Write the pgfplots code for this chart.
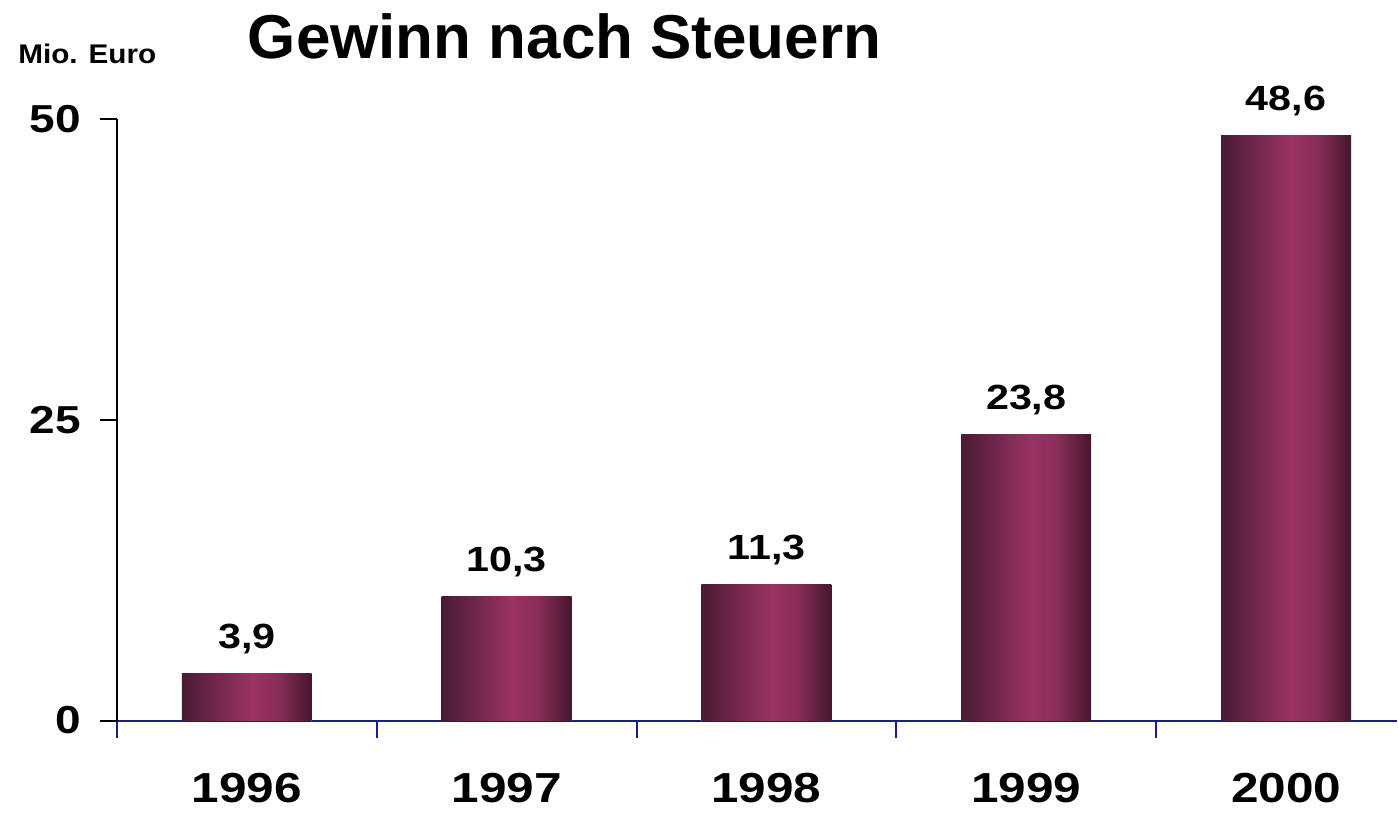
\documentclass[border=0pt]{standalone}
\usepackage{pgfplots}
\pgfplotsset{compat=1.18}
\usepackage{fontspec}
\setmainfont{Liberation Sans}
\newfontfamily\widefont[FakeStretch=1.18]{Liberation Sans}
\newfontfamily\midfont[FakeStretch=1.1]{Liberation Sans}
\definecolor{barDark}{HTML}{4A1A35}
\definecolor{barMid}{HTML}{9A3362}
\definecolor{barDarkR}{HTML}{45162F}
\definecolor{axisNavy}{HTML}{1C1C8C}
\pgfdeclarehorizontalshading{barshade}{100bp}{color(0bp)=(barDark); color(25bp)=(barDark); color(33bp)=(barDark!70!barMid); color(52bp)=(barMid); color(62bp)=(barMid!80!barDarkR); color(75bp)=(barDarkR); color(100bp)=(barDarkR)}

\begin{document}
\begin{tikzpicture}
\begin{axis}[
  scale only axis, width=640.5pt, height=301pt,
  xmin=-0.5, xmax=4.4269, ymin=0, ymax=50,
  axis x line=bottom, axis y line=left,
  x axis line style={-, draw=axisNavy, line width=1pt},
  y axis line style={-, draw=black, line width=1pt},
  ybar, bar width=0.5, bar shift=0pt, clip=false,
  xtick={-0.5,0.5,1.5,2.5,3.5}, xticklabels={},
  x tick style={draw=axisNavy, line width=1pt},
  extra x ticks={0,1,2,3,4}, extra x tick labels={1996,1997,1998,1999,2000},
  extra x tick style={major tick length=0pt, tick style={draw=none}},
  xticklabel style={font=\widefont\fontsize{21}{24}\selectfont\bfseries, anchor=base, yshift=-41pt},
  ytick={0,25,50}, tick align=outside, major tick length=8.5pt,
  y tick style={draw=black, line width=1pt},
  yticklabel style={font=\widefont\fontsize{19.5}{24}\selectfont\bfseries, xshift=-6pt},
  /pgf/number format/assume math mode=true,
  point meta=explicit symbolic,
  nodes near coords,
  every node near coord/.append style={text=black, font=\widefont\fontsize{17.5}{22}\selectfont\bfseries, anchor=base, yshift=12.5pt},
  every axis plot/.append style={draw=none, shade, shading=barshade},
]
\addplot coordinates {(0,3.9) [3,9]};
\addplot coordinates {(1,10.3) [10,3]};
\addplot coordinates {(2,11.3) [11,3]};
\addplot coordinates {(3,23.8) [23,8]};
\addplot coordinates {(4,48.6) [48,6]};
\node[anchor=base, font=\fontsize{31}{36}\selectfont\bfseries] at (rel axis cs:0.3497,1.1) {Gewinn nach Steuern};
\node[anchor=base west, inner sep=0pt, font=\midfont\fontsize{13.5}{18}\selectfont\bfseries] at (rel axis cs:-0.0773,1.0914) {Mio. Euro};
\path[draw=none] (rel axis cs:-0.0913,-0.1578) rectangle (rel axis cs:1,1.1977);
\end{axis}
\end{tikzpicture}
\end{document}
